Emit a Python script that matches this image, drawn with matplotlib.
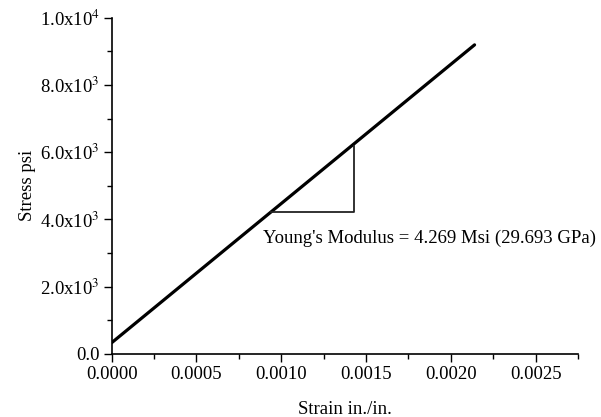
import math
import matplotlib
matplotlib.use("Agg")
import matplotlib.pyplot as plt
from matplotlib.ticker import FuncFormatter, MultipleLocator

strain = [0.0, 0.0003, 0.0007, 0.0010, 0.0014, 0.0018, 0.00214]
stress = [336, 1577, 3233, 4474, 6129, 7785, 9192]

tri_x = [0.00094, 0.00143, 0.00143]
tri_y = [4230, 4230, 6170]

annotation = "Young's Modulus = 4.269 Msi (29.693 GPa)"
xlabel = "Strain in./in."
ylabel = "Stress psi"

plt.rcParams['font.family'] = ['Liberation Serif', 'DejaVu Serif']
plt.rcParams['mathtext.fontset'] = 'stix'

FS = 13.5

fig = plt.figure(figsize=(6.01, 4.17), dpi=100)
ax = fig.add_axes([0.1859, 0.1511, 0.9617 - 0.1859, 0.9576 - 0.1511])

ax.plot(strain, stress, color='black', lw=2.3, solid_capstyle='round')
ax.plot(tri_x, tri_y, color='#222222', lw=1.3)

ax.set_xlim(0, 0.00275)
ax.set_ylim(0, 10000)

for s in ['top', 'right']:
    ax.spines[s].set_visible(False)
for s in ['left', 'bottom']:
    ax.spines[s].set_linewidth(1.2)

ax.xaxis.set_major_locator(MultipleLocator(0.0005))
ax.xaxis.set_minor_locator(MultipleLocator(0.00025))
ax.yaxis.set_major_locator(MultipleLocator(2000))
ax.yaxis.set_minor_locator(MultipleLocator(1000))

def yfmt(v, pos):
    if v < 0:
        return ""
    if abs(v) < 1e-9:
        return "0.0"
    e = int(math.floor(math.log10(v) + 1e-9))
    m = v / 10 ** e
    return "%.1fx10$^{%d}$" % (m, e)

def xfmt(v, pos):
    if v < -1e-12:
        return ""
    return "%.4f" % abs(v)

ax.yaxis.set_major_formatter(FuncFormatter(yfmt))
ax.xaxis.set_major_formatter(FuncFormatter(xfmt))

ax.tick_params(axis='both', which='major', direction='out', length=6, width=1.0,
               labelsize=FS, pad=2.5)
ax.tick_params(axis='both', which='minor', direction='out', length=3.5, width=1.0)

ax.set_xlabel(xlabel, fontsize=FS, labelpad=13)
ax.set_ylabel(ylabel, fontsize=FS, labelpad=3)

ax.text(0.00089, 3450, annotation, fontsize=FS, ha='left', va='center')

fig.savefig("out.png", dpi=100)
